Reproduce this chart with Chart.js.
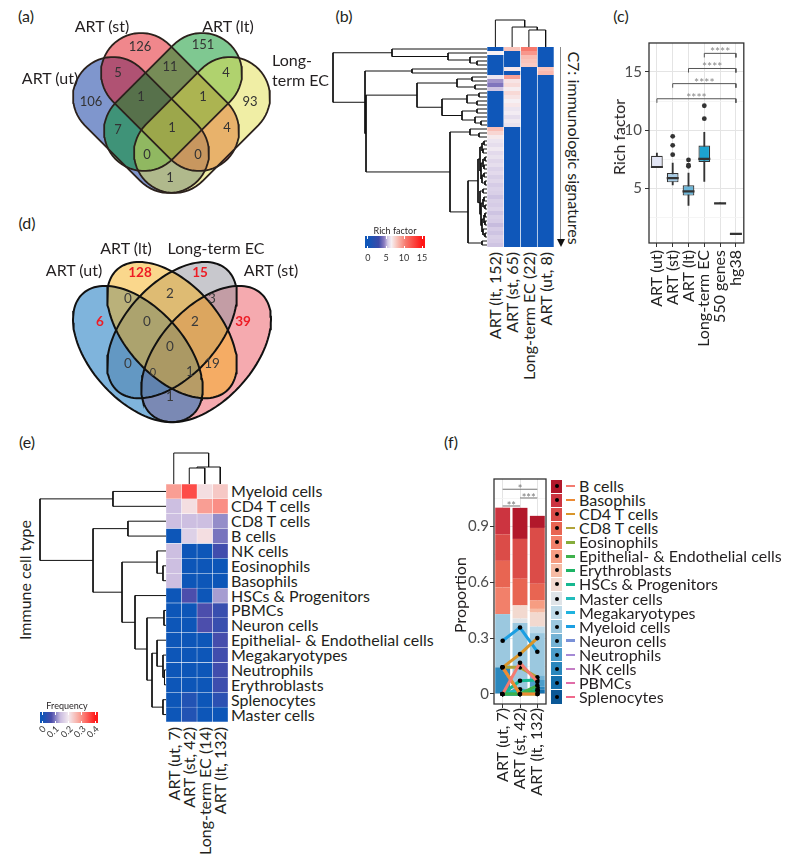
<!DOCTYPE html>
<html lang="en"><head><meta charset="utf-8"><title>Figure</title>
<script src="https://cdn.jsdelivr.net/npm/chart.js@4.4.1/dist/chart.umd.min.js"></script>
<style>
html,body{margin:0;padding:0;background:#fff;}
body{position:relative;width:794px;height:861px;overflow:hidden;font-family:Lato,"Open Sans",sans-serif;color:#231f20;}
canvas{position:absolute;}
.t{position:absolute;white-space:nowrap;line-height:1;}
.bx{position:absolute;}
</style></head><body>
<script>
/* ======================= DATA ======================= */
// (a) Venn: C7 gene sets per group
const aSets=['ART (ut)','ART (st)','ART (lt)','Long-term EC'];
const aRegions=['ut','st','lt','EC','ut+st','st+lt','lt+EC','ut+st+lt','st+lt+EC','ut+st+lt+EC','ut+lt','st+EC','ut+lt+EC','ut+st+EC','ut+EC'];
const aCounts=[106,126,151,93,5,11,4,1,1,1,7,4,0,0,1];

// (b) heatmap of rich factor (rows top->bottom), columns:
const bCols=['ART (lt, 152)','ART (st, 65)','Long-term EC (22)','ART (ut, 8)'];
const bLt=[0,6.5,0,0,0,0,0,6.2,4.8,4.3,5.4,0,0,0,0,0,0,0,0,0,8.2,7.4,6.7,6.2,6.0,6.3,5.9,6.1,5.8,6.0,5.7,5.9,5.6,5.8,5.5,5.7,5.6,5.4,5.6,5.5,5.7,5.4,5.6,5.5,5.3,5.5,5.4,5.6,5.5,5.4];
const bSt=[8,0,0,0,0,6.8,0,9.2,6.9,7.2,6.6,7.3,6.9,6.5,6.8,6.2,6.4,6.0,6.3,6.1,0,0,0,0,0,0,0,0,0,0,0,0,0,0,0,0,0,0,0,0,0,0,0,0,0,0,0,0,0,0];
const bEC=[10.5,9.5,8.3,8.0,7.8,0,0,0,0,0,0,0,0,0,0,0,0,0,0,0,0,0,0,0,0,0,0,0,0,0,0,0,0,0,0,0,0,0,0,0,0,0,0,0,0,0,0,0,0,0];
const bUt=[0,0,0,0,0,8.0,8.4,0,0,0,0,0,0,0,0,0,0,0,0,0,0,0,0,0,0,0,0,0,0,0,0,0,0,0,0,0,0,0,0,0,0,0,0,0,0,0,0,0,0,0];
// row dendrogram [height, left, right]; leaves = row index
const bTree=[154,
  [95,0,[39,1,[17,2,[10,3,4]]]],
  [122,[75,5,6],
    [121,
      [70,
        [30,[15,7,8],[12,9,10]],
        [45,[20,[8,11,12],[10,13,14]],[25,[10,15,16],[12,17,[6,18,19]]]]
      ],
      [37,
        [17,20,[8,21,22]],
        [19,
          [9,
            [7,[5,[3,23,24],[4,25,26]],[6,[4,[2,27,28],[3,29,30]],[5,[3,31,32],[2,33,34]]]],
            [7,[4,35,36],[6,[4,[3,37,38],[2,39,40]],[5,[3,[2,41,42],[2,43,44]],[4,45,[2,46,47]]]]]
          ],
          [5,48,49]
        ]
      ]
    ]
  ]
];
const bColTree=[1,0,[0.74,1,[0.63,2,3]]];
const bLegendTicks=[0,5,10,15];

// (c) boxplot of rich factor
const cGroups=['ART (ut)','ART (st)','ART (lt)','Long-term EC','550 genes','hg38'];
const cLow =[6.78,5.30,3.53,5.60,3.70,1.08];
const cQ1  =[6.78,5.52,4.38,7.27,3.67,1.05];
const cMed =[6.84,5.89,4.74,7.53,3.72,1.10];
const cQ3  =[7.80,6.32,5.26,8.69,3.77,1.15];
const cHigh=[8.04,7.18,6.32,9.81,3.75,1.15];
const cOutliers=[[],[7.9,8.7,9.47],[6.9,7.0,7.45],[10.99,12.1],[],[]];
const cComparisons=[['ART (ut)','hg38',12.7],['ART (st)','hg38',14.0],['ART (lt)','hg38',15.3],['Long-term EC','hg38',16.6]];
const cCompLabels=['****','****','****','****'];
const cYTicks=[2.5,5,7.5,10,12.5,15,17.5];
const cYTickLabels=['','5','','10','','15',''];

// (d) Venn: immune cell type signatures
const dSets=['ART (ut)','ART (lt)','Long-term EC','ART (st)'];
const dRegions=['ut','lt','EC','st','ut+lt','lt+EC','EC+st','ut+lt+EC','lt+EC+st','ut+lt+EC+st','ut+EC','lt+st','ut+EC+st','ut+lt+st','ut+st'];
const dCounts=[6,128,15,39,0,2,3,0,2,0,0,19,0,1,1];

// (e) heatmap of frequency
const eRows=['Myeloid cells','CD4 T cells','CD8 T cells','B cells','NK cells','Eosinophils','Basophils','HSCs & Progenitors','PBMCs','Neuron cells','Epithelial- & Endothelial cells','Megakaryotypes','Neutrophils','Erythroblasts','Splenocytes','Master cells'];
const eCols=['ART (ut, 7)','ART (st, 42)','Long-term EC (14)','ART (lt, 132)'];
const eUt=[0.286,0.143,0.143,0,0.143,0.143,0.143,0,0,0,0,0,0,0,0,0];
const eSt=[0.357,0.214,0.143,0.167,0,0,0,0.071,0,0,0,0,0,0,0.024,0.024];
const eEC=[0.214,0.286,0.143,0.214,0,0,0,0,0.071,0.071,0,0,0,0,0,0];
const eLt=[0.24,0.30,0.11,0.095,0.06,0,0,0.12,0.05,0.05,0.065,0.06,0.06,0.055,0.035,0];
const eRowTree=[1,[0.421,0,1],[0.579,[0.302,2,3],[0.349,[0.071,4,[0.024,5,6]],[0.246,7,[0.151,[0.016,8,9],[0.111,[0.071,10,[0.024,11,[0.012,12,13]]],[0.024,14,15]]]]]]];
const eColTree=[1,0,[0.548,[0.516,1,2],3]];
const eLegendTicks=[0,0.1,0.2,0.3,0.4];

// (f) proportions of cell types
const fGroups=['ART (ut, 7)','ART (st, 42)','ART (lt, 132)'];
const fTypes=['B cells','Basophils','CD4 T cells','CD8 T cells','Eosinophils','Epithelial- & Endothelial cells','Erythroblasts','HSCs & Progenitors','Master cells','Megakaryotypes','Myeloid cells','Neuron cells','Neutrophils','NK cells','PBMCs','Splenocytes'];
const fUt=[0,0.143,0.143,0.143,0.143,0,0,0,0,0,0.286,0,0,0.143,0,0];
const fSt=[0.167,0,0.214,0.143,0,0,0,0.071,0.024,0,0.357,0,0,0,0,0.024];
const fLt=[0.065,0,0.30,0.09,0,0.045,0.02,0.075,0,0.035,0.227,0.025,0.035,0.015,0.02,0.005];
const fComparisons=[['ART (ut, 7)','ART (lt, 132)',1.10],['ART (st, 42)','ART (lt, 132)',1.053],['ART (ut, 7)','ART (st, 42)',1.01]];
const fCompLabels=['*','***','**'];
const fYTicks=[0,0.15,0.3,0.45,0.6,0.75,0.9,1.05];
const fYTickLabels=['0','','0.3','','0.6','','0.9',''];

/* ======================= STYLE / LAYOUT ======================= */
const A_SHAPES=[ // capsules in page px: ut, st, lt, EC
  {e1:[113,97],e2:[169,153],r:40,fill:'rgba(0,45,155,0.5)'},
  {e1:[141,73],e2:[199,131],r:40,fill:'rgba(225,15,25,0.5)'},
  {e1:[202,73],e2:[144,131],r:40,fill:'rgba(0,145,35,0.5)'},
  {e1:[230,97],e2:[174,153],r:40,fill:'rgba(225,221,75,0.5)'}];
const A_LABEL_POS=[[91,102],[140,47],[203,45],[250,102],[118,73],[170,67],[226,73],[141,97],[203,97],[172,128],[118,130],[227,128],[147,155],[198,155],[170,178]];
const D_ELL=[ // VennDiagram quad units: ut, lt, EC, st
  {cx:0.35,cy:0.47,rot:-45,fill:'rgba(0,105,185,0.5)'},
  {cx:0.50,cy:0.57,rot:-45,fill:'rgba(245,175,25,0.5)'},
  {cx:0.50,cy:0.57,rot:45,fill:'rgba(145,145,155,0.5)'},
  {cx:0.65,cy:0.47,rot:45,fill:'rgba(235,85,95,0.5)'}];
const D_A=0.35,D_B=0.2;
const dMapX=u=>172+(u-0.5)*227.6, dMapY=v=>262+(0.855-v)*239;
const D_LABEL_POS=[[100,322],[140,273],[200,273],[243,322],[128,299],[170,294],[212,299],[147,322],[195,322],[170,347],[128,364],[212,364],[153,372],[190,372],[170,397]];
const B_STOPS=[[0,'#0f57b9'],[3,'#3c4aa8'],[4.5,'#8a7cc0'],[5.5,'#d6cce6'],[6.5,'#f6f0f4'],[8,'#f9c4bb'],[10.5,'#f7786c'],[15,'#ff1414']];
const E_STOPS=[[0,'#0d56b8'],[0.07,'#4a4cab'],[0.14,'#cbbde0'],[0.2,'#f3eaf0'],[0.28,'#f9a59a'],[0.4,'#ff1a1a']];
const C_FILL=['#e3e6f5','#a7cbe4','#6bb5d7','#1da3cf','#8a9aa6','#333333'];
const C_EDGE=['#333','#333','#333','#333','#777','#222'];
const F_FILL=['#b2182b','#cc3440','#db4c48','#e86552','#f2806a','#f69d82','#f6bba4','#f2d9cf','#dfe4e8','#c0dbe9','#9bc8df','#74b3d5','#4b9dca','#2a87bd','#1470ad','#0b5897'];
const F_LINE=['#f37b70','#ec8a33','#d9952a','#b1a33a','#86ad3c','#3fb14c','#1db465','#16b890','#22bcbc','#1fb3df','#1c9fe2','#7a91d7','#a48ad6','#c47dc5','#e06ca8','#f0698c'];

/* ======================= HELPERS ======================= */
Chart.defaults.font.family='Lato';
Chart.defaults.color='#333';
Chart.defaults.animation=false;
Chart.defaults.responsive=false;
Chart.defaults.maintainAspectRatio=false;
Chart.defaults.events=[];
Chart.defaults.plugins.legend.display=false;
Chart.defaults.plugins.tooltip.enabled=false;

function cnv(x,y,w,h){const c=document.createElement('canvas');c.width=w;c.height=h;
  Object.assign(c.style,{left:x+'px',top:y+'px',width:w+'px',height:h+'px'});document.body.appendChild(c);return c;}
function txt(s,x,y,o){o=o||{};const d=document.createElement('div');d.className='t';d.textContent=s;
  d.style.left=x+'px';d.style.top=y+'px';d.style.fontSize=(o.size||16)+'px';
  if(o.color)d.style.color=o.color;if(o.weight)d.style.fontWeight=o.weight;
  if(o.rotEnd!==undefined){d.style.transformOrigin='0 0';d.style.transform='rotate('+o.rotEnd+'deg) translate(-100%,-50%)';}
  else if(o.rot!==undefined){d.style.transformOrigin='50% 50%';d.style.transform='translate(-50%,-50%) rotate('+o.rot+'deg)';}
  else{const ax=o.align==='left'?'0':(o.align==='right'?'-100%':'-50%');d.style.transform='translate('+ax+',-50%)';}
  document.body.appendChild(d);return d;}
function box(x,y,w,h,css){const d=document.createElement('div');d.className='bx';
  d.style.cssText+='left:'+x+'px;top:'+y+'px;width:'+w+'px;height:'+h+'px;'+(css||'');document.body.appendChild(d);return d;}
function hex2rgb(h){return [parseInt(h.slice(1,3),16),parseInt(h.slice(3,5),16),parseInt(h.slice(5,7),16)];}
function makeCmap(stops){const s=stops.map(([v,h])=>[v].concat(hex2rgb(h)));
  return v=>{let a=s[0],b=s[s.length-1];if(v<=a[0])b=a;else if(v>=b[0])a=b;else{for(let i=1;i<s.length;i++){if(v<=s[i][0]){a=s[i-1];b=s[i];break;}}}
    const t=(a===b)?0:(v-a[0])/(b[0]-a[0]);return 'rgb('+[1,2,3].map(k=>Math.round(a[k]+t*(b[k]-a[k]))).join(',')+')';};}
function capsulePts(e1,e2,r){const n=30,ang=Math.atan2(e2[1]-e1[1],e2[0]-e1[0]),p=[];
  for(let k=0;k<=n;k++){const t=ang-Math.PI/2+Math.PI*k/n;p.push({x:e2[0]+r*Math.cos(t),y:e2[1]+r*Math.sin(t)});}
  for(let k=0;k<=n;k++){const t=ang+Math.PI/2+Math.PI*k/n;p.push({x:e1[0]+r*Math.cos(t),y:e1[1]+r*Math.sin(t)});}
  p.push({x:p[0].x,y:p[0].y});return p;}
function ellipsePts(e){const n=120,th=e.rot*Math.PI/180,p=[];
  for(let k=0;k<=n;k++){const t=2*Math.PI*k/n;
    const u=e.cx+D_A*Math.cos(t)*Math.cos(th)-D_B*Math.sin(t)*Math.sin(th);
    const v=e.cy+D_A*Math.cos(t)*Math.sin(th)+D_B*Math.sin(t)*Math.cos(th);
    p.push({x:dMapX(u),y:dMapY(v)});}
  return p;}
function vennLabels(counts,pos,styleFn){return {id:'vl',afterDatasetsDraw(ch){const c=ch.ctx,xs=ch.scales.x,ys=ch.scales.y;
  c.save();c.textAlign='center';c.textBaseline='middle';
  counts.forEach((n,i)=>{const st=styleFn(i);c.font=st.font;c.fillStyle=st.color;c.fillText(String(n),xs.getPixelForValue(pos[i][0]),ys.getPixelForValue(pos[i][1]));});
  c.restore();}};}
function dendroSegs(tree){const segs=[];
  (function walk(n){if(typeof n==='number')return {p:n+0.5,h:0};
    const a=walk(n[1]),b=walk(n[2]);segs.push([[a.h,a.p],[n[0],a.p],[n[0],b.p],[b.h,b.p]]);return {p:(a.p+b.p)/2,h:n[0]};})(tree);
  return segs;}
function dendro(canvas,tree,orient,hMax,nLeaves,color,lw){
  const ds=dendroSegs(tree).map(s=>({data:s.map(([h,p])=>orient==='row'?{x:h,y:p}:{x:p,y:h}),borderColor:color,borderWidth:lw,pointRadius:0,fill:false,tension:0}));
  const hs={type:'linear',min:0,max:hMax,display:false},ps={type:'linear',min:0,max:nLeaves,display:false};
  const scales=orient==='row'?{x:Object.assign({},hs,{reverse:true}),y:Object.assign({},ps,{reverse:true})}:{x:ps,y:hs};
  return new Chart(canvas,{type:'line',data:{datasets:ds},options:{devicePixelRatio:1,layout:{padding:0},scales:scales}});}
function heat(canvas,rowIds,cols,cmap,bColor,bWidth){
  return new Chart(canvas,{type:'bar',data:{labels:rowIds,datasets:cols.map((vals,j)=>({data:vals.map(()=>[j,j+1]),backgroundColor:vals.map(cmap),borderColor:bColor,borderWidth:bWidth,borderSkipped:false,barPercentage:1,categoryPercentage:1,grouped:false}))},
    options:{indexAxis:'y',devicePixelRatio:1,layout:{padding:0},scales:{x:{type:'linear',min:0,max:cols.length,display:false},y:{type:'category',offset:true,display:false}}}});}
function colorbar(x,y,w,h,vmin,vmax,stops,ticks,labels,labelOpt){
  const g=stops.map(([v,c])=>c+' '+((v-vmin)/(vmax-vmin)*100).toFixed(2)+'%').join(',');
  box(x,y,w,h,'background:linear-gradient(to right,'+g+');');
  ticks.forEach((v,i)=>{const px=x+(v-vmin)/(vmax-vmin)*w;
    box(px-0.5,y,1,2.5,'background:#fff;');box(px-0.5,y+h-2.5,1,2.5,'background:#fff;');
    labelOpt(labels[i],px);});}
const panelBorder={id:'pb',afterDraw(ch){const c=ch.ctx,a=ch.chartArea;c.save();c.strokeStyle='#333';c.lineWidth=1.3;c.strokeRect(a.left,a.top,a.right-a.left,a.bottom-a.top);c.restore();}};
function compLabels(comps,labels,yId,font,color,dy){return {id:'cl',afterDatasetsDraw(ch){const c=ch.ctx,xs=ch.scales.x,ys=ch.scales[yId],lab=xs.getLabels();
  c.save();c.font=font;c.fillStyle=color;c.textAlign='center';c.textBaseline='alphabetic';
  comps.forEach((k,i)=>{const x1=xs.getPixelForValue(lab.indexOf(k[0])),x2=xs.getPixelForValue(lab.indexOf(k[1]));c.fillText(labels[i],(x1+x2)/2,ys.getPixelForValue(k[2])+dy);});
  c.restore();}};}
function gridOpts(labels){return {color:c=>labels[c.index]?'#e4e4e4':'#f2f2f2',lineWidth:c=>labels[c.index]?1:0.8,tickLength:4,tickWidth:1,tickColor:c=>labels[c.index]?'#333':'rgba(0,0,0,0)'};}

/* ======================= PANEL LETTERS ======================= */
txt('(a)',26,16);txt('(b)',344,16);txt('(c)',621,16);txt('(d)',27,223);txt('(e)',27,442);txt('(f)',451,442);

/* ======================= (a) VENN ======================= */
(function(){const L=60,T=18,W=232,H=188,order=[3,2,1,0];
  const ds=order.map(i=>({data:capsulePts(A_SHAPES[i].e1,A_SHAPES[i].e2,A_SHAPES[i].r),fill:'shape',backgroundColor:A_SHAPES[i].fill,borderColor:'#2b211c',borderWidth:1.8,pointRadius:0,tension:0,borderJoinStyle:'round'}));
  new Chart(cnv(L,T,W,H),{type:'line',data:{datasets:ds},options:{devicePixelRatio:1,layout:{padding:0},plugins:{filler:{drawTime:'beforeDatasetsDraw'}},
    scales:{x:{type:'linear',min:L,max:L+W,display:false},y:{type:'linear',min:T,max:T+H,reverse:true,display:false}}},
    plugins:[vennLabels(aCounts,A_LABEL_POS,()=>({font:'13px Lato',color:'#333'}))]});
  txt(aSets[0],50,78);txt(aSets[1],102,26);txt(aSets[2],228,26);
  txt('Long-',272,60,{align:'left'});txt('term EC',272,80,{align:'left'});
})();

/* ======================= (d) VENN ======================= */
(function(){const L=60,T=250,W=232,H=182,order=[1,0,2,3];
  const ds=order.map(i=>({data:ellipsePts(D_ELL[i]),fill:'shape',backgroundColor:D_ELL[i].fill,borderColor:'#111',borderWidth:2,pointRadius:0,tension:0}));
  new Chart(cnv(L,T,W,H),{type:'line',data:{datasets:ds},options:{devicePixelRatio:1,layout:{padding:0},plugins:{filler:{drawTime:'beforeDatasetsDraw'}},
    scales:{x:{type:'linear',min:L,max:L+W,display:false},y:{type:'linear',min:T,max:T+H,reverse:true,display:false}}},
    plugins:[vennLabels(dCounts,D_LABEL_POS,i=>i<4?{font:'bold 13.5px Lato',color:'#ee1c25'}:(i===12?{font:'11px Lato',color:'#3a3a3a'}:{font:'13.5px Lato',color:'#3a3a3a'}))]});
  txt(dSets[0],74,270);txt(dSets[1],126,248);txt(dSets[2],216,248);txt(dSets[3],271,270);
})();

/* ======================= (b) HEATMAP ======================= */
(function(){const HX=487,HY=47,HW=67,HH=200,n=bLt.length;
  const bCmap=makeCmap(B_STOPS);
  heat(cnv(HX,HY,HW,HH),bLt.map((_,i)=>'r'+i),[bLt,bSt,bEC,bUt],bCmap,'#ffffff',{left:0.6,right:0.6,top:0,bottom:0});
  dendro(cnv(HX-156,HY,156,HH),bTree,'row',156,n,'#111',1);
  dendro(cnv(HX,17,HW,30),bColTree,'col',30/27,4,'#111',1);
  bCols.forEach((c,j)=>txt(c,HX+(j+0.5)*HW/4,252,{rotEnd:-90,size:16}));
  txt('C7: immunologic signatures',574,148,{rot:90,size:16});
  box(560,47,1.2,193,'background:#8a8a8a;');
  box(556.6,239,0,0,'border-left:4px solid transparent;border-right:4px solid transparent;border-top:8px solid #111;');
  txt('Rich factor',395,230,{size:9});
  colorbar(365,236,60,12,-0.833,15.83,B_STOPS,bLegendTicks,bLegendTicks.map(String),(s,px)=>txt(s,px,257,{size:9,color:'#333'}));
})();

/* ======================= (c) BOXPLOT ======================= */
(function(){
  const outPts=[];cOutliers.forEach((arr,i)=>arr.forEach(v=>outPts.push({x:cGroups[i],y:v})));
  const brackets=cComparisons.map(k=>({type:'line',data:[{x:k[0],y:k[2]-0.35},{x:k[0],y:k[2]},{x:k[1],y:k[2]},{x:k[1],y:k[2]-0.35}],borderColor:'#555',borderWidth:1,pointRadius:0,fill:false,order:0}));
  new Chart(cnv(600,33,152,327),{type:'bar',data:{labels:cGroups,datasets:[
      {type:'line',data:cMed,showLine:false,pointStyle:'line',pointRadius:6,pointBorderWidth:2.2,pointBorderColor:'#333',order:0},
      {type:'line',data:outPts,showLine:false,pointRadius:2.4,pointBackgroundColor:'#333',pointBorderWidth:0,order:0}]
      .concat(brackets).concat([
      {type:'bar',data:cQ1.map((q,i)=>[q,cQ3[i]]),backgroundColor:C_FILL,borderColor:C_EDGE,borderWidth:1.2,borderSkipped:false,grouped:false,barPercentage:0.74,categoryPercentage:1,order:1},
      {type:'bar',data:cLow.map((m,i)=>[m,cHigh[i]]),backgroundColor:'#333',grouped:false,barThickness:1.2,order:2}])},
    options:{devicePixelRatio:1,layout:{padding:{top:10,right:6,left:0,bottom:0}},
      scales:{
        x:{type:'category',offset:true,grid:{offset:false,color:'#e4e4e4',tickLength:4,tickColor:'#333'},border:{display:false},
           ticks:{autoSkip:false,minRotation:90,maxRotation:90,font:{size:16},color:'#222',padding:3},
           afterFit:s=>{s.height=117;s.paddingLeft=0;s.paddingRight=0;}},
        y:{type:'linear',min:0.31,max:17.49,afterBuildTicks:s=>{s.ticks=cYTicks.map(v=>({value:v}));},
           ticks:{autoSkip:false,callback:(v,i)=>cYTickLabels[i],font:{size:15},color:'#4d4d4d',padding:3},
           grid:gridOpts(cYTickLabels),border:{display:false},
           afterFit:s=>{s.width=49;s.paddingTop=0;s.paddingBottom=0;}}}},
    plugins:[panelBorder,compLabels(cComparisons,cCompLabels,'y','12px Lato','#888',3)]});
  txt('Rich factor',619,137,{rot:-90,size:16});
})();

/* ======================= (e) HEATMAP ======================= */
(function(){const HX=166,HY=484,HW=62,HH=238,n=eRows.length,rh=HH/n;
  const eCmap=makeCmap(E_STOPS);
  heat(cnv(HX,HY,HW,HH),eRows,[eUt,eSt,eEC,eLt],eCmap,'rgba(255,255,255,0.45)',0.5);
  dendro(cnv(38,HY,128,HH),eRowTree,'row',128/126,n,'#111',1);
  dendro(cnv(HX,450,HW,34),eColTree,'col',34/31,4,'#111',1);
  eRows.forEach((r,i)=>txt(r,231,HY+(i+0.5)*rh,{align:'left',size:16}));
  eCols.forEach((c,j)=>txt(c,HX+(j+0.5)*HW/4,727,{rotEnd:-90,size:16}));
  txt('Immune cell type',25,580,{rot:-90,size:16});
  txt('Frequency',67,705,{size:9});
  colorbar(40,712,58,11,-0.0151,0.4226,E_STOPS,eLegendTicks,eLegendTicks.map(String),(s,px)=>txt(s,px+2,727,{rotEnd:-45,size:9,color:'#333'}));
})();

/* ======================= (f) STACKED BARS + LINES ======================= */
(function(){
  const lines=fTypes.map((t,i)=>({type:'line',label:t,data:[fUt[i],fSt[i],fLt[i]],borderColor:F_LINE[i],borderWidth:3,pointRadius:2.3,pointBackgroundColor:'#000',pointBorderWidth:0,yAxisID:'y2',order:1,tension:0,fill:false}));
  const bars=fTypes.map((t,i)=>({type:'bar',label:t,data:[fUt[i],fSt[i],fLt[i]],backgroundColor:F_FILL[i],stack:'s',yAxisID:'y',order:2,barPercentage:0.86,categoryPercentage:1})).reverse();
  const brackets=fComparisons.map(k=>({type:'line',data:[{x:k[0],y:k[2]},{x:k[1],y:k[2]}],borderColor:'#666',borderWidth:0.9,pointRadius:0,fill:false,yAxisID:'y2',order:0}));
  new Chart(cnv(440,469,110,331),{type:'bar',data:{labels:fGroups,datasets:brackets.concat(lines).concat(bars)},
    options:{devicePixelRatio:1,layout:{padding:{top:10,right:2,left:0,bottom:0}},
      scales:{
        x:{type:'category',stacked:true,offset:true,grid:{offset:false,color:'#e4e4e4',tickLength:4,tickColor:'#333'},border:{display:false},
           ticks:{autoSkip:false,minRotation:90,maxRotation:90,font:{size:16},color:'#222',padding:0},
           afterFit:s=>{s.height=96;s.paddingLeft=0;s.paddingRight=0;}},
        y:{type:'linear',stacked:true,min:-0.054,max:1.155,afterBuildTicks:s=>{s.ticks=fYTicks.map(v=>({value:v}));},
           ticks:{autoSkip:false,callback:(v,i)=>fYTickLabels[i],font:{size:15},color:'#4d4d4d',padding:1},
           grid:gridOpts(fYTickLabels),border:{display:false},
           afterFit:s=>{s.width=54;s.paddingTop=0;s.paddingBottom=0;}},
        y2:{type:'linear',stacked:false,min:-0.054,max:1.155,display:false}}},
    plugins:[panelBorder,compLabels(fComparisons,fCompLabels,'y2','11px Lato','#777',4)]});
  txt('Proportion',460,595,{rot:-90,size:16});
  const top0=479,step=225/16;
  fTypes.forEach((t,i)=>{const y0=top0+i*step,cy=y0+step/2;
    box(551,y0+0.5,11,step-1,'background:'+F_FILL[i]+';');
    box(554.5,cy-2,4,4,'background:#000;border-radius:50%;');
    box(566,cy-1.25,9,2.5,'background:'+F_LINE[i]+';');
    txt(t,579,cy,{align:'left',size:16});});
})();
</script>
</body></html>
